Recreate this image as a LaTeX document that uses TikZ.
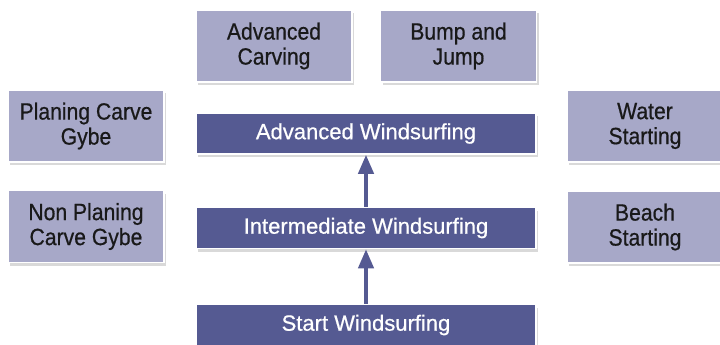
\documentclass[tikz,border=0pt]{standalone}
\usepackage{fontspec}
\setmainfont{Liberation Sans}[FakeStretch=0.9, FakeBold=0.6]
\newfontfamily\largo{Liberation Sans}[FakeBold=0.6]
\usepackage{tikz}
\usetikzlibrary{arrows.meta, shadows}
\definecolor{lilas}{HTML}{A7A8C8}
\definecolor{anil}{HTML}{555A92}
\tikzset{
  nivel/.style={draw=white, line width=1.5pt, fill=anil, text=white,
    minimum width=340pt, minimum height=41pt, inner sep=0pt,
    font=\largo\fontsize{22}{25}\selectfont,
    drop shadow={shadow xshift=2pt, shadow yshift=-3pt, opacity=0.3}},
  manobra/.style={draw=white, line width=1.5pt, fill=lilas, text=black!90,
    minimum width=156pt, minimum height=72pt, inner sep=0pt, align=center,
    font=\fontsize{23.5}{25}\selectfont,
    drop shadow={shadow xshift=2pt, shadow yshift=-3pt, opacity=0.3}},
  subida/.style={-{Triangle[width=15pt,length=19pt]}, anil, line width=4pt}
}
\begin{document}
\begin{tikzpicture}[x=1pt, y=-1pt]
    \useasboundingbox (0,0) rectangle (720,345);
    \clip (0,0) rectangle (720,345);
    % Níveis de windsurf
    \node[nivel] (start) at (366,325) {Start Windsurfing};
    \node[nivel] (inter) at (366,228) {Intermediate Windsurfing};
    \node[nivel] (adv) at (366,133.5) {Advanced Windsurfing};
    % Manobras ao redor
    \node[manobra] (carving) at (274,46) {Advanced\\Carving};
    \node[manobra] (bump) at (458.5,46) {Bump and\\Jump};
    \node[manobra] (planing) at (86,126) {Planing Carve\\Gybe};
    \node[manobra] (nonplaning) at (86,226.5) {Non Planing\\Carve Gybe};
    \node[manobra] (water) at (645,126) {Water\\Starting};
    \node[manobra] (beach) at (645,227) {Beach\\Starting};
    % Setas entre níveis
    \draw[subida] (start) -- (inter);
    \draw[subida] (inter) -- (adv);
\end{tikzpicture}
\end{document}
